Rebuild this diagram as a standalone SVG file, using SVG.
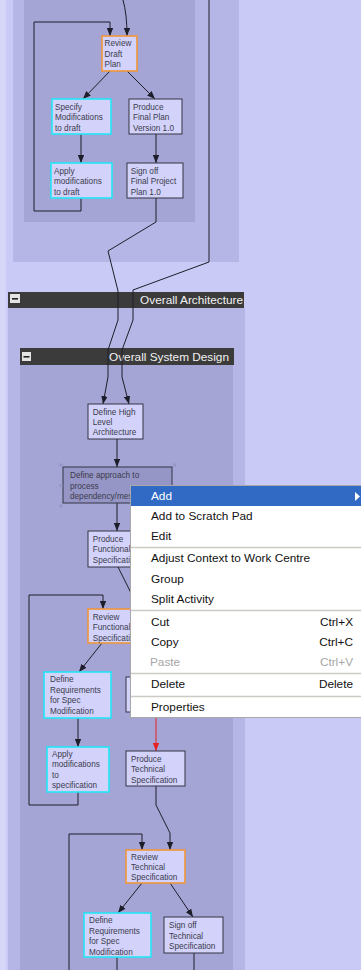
<svg xmlns="http://www.w3.org/2000/svg" width="361" height="970" viewBox="0 0 361 970">
<style>
.bg{fill:#CACAF7}
.outer{fill:#B6B6E6}
.inner{fill:#A4A4D5}
.hdr{fill:#3B3B3B}
.hdrt{font-family:"Liberation Sans",Arial,sans-serif;font-size:11.8px;fill:#F2F2F2}
.node rect{fill:#D2D2FA}
.node text{font-family:"Liberation Sans",Arial,sans-serif;font-size:8.2px;fill:#3C3C4C}
.dark{stroke:#343444;stroke-width:1}
.cyan{stroke:#22E6F8;stroke-width:1.6}
.orange{stroke:#F0963A;stroke-width:1.6}
.sel rect{fill:#9595C6}
.conn path{fill:none;stroke:#1E1E2A;stroke-width:1}
.conn path.red{stroke:#E82020}
.menu text{font-family:"Liberation Sans",Arial,sans-serif;font-size:11.8px;fill:#111}
.menu text.dis{fill:#A6A6A6}
.sep{stroke:#CCCAC4;stroke-width:1.5}
.handle{fill:#C8C8C8}
</style>
<defs>
<marker id="ah" viewBox="0 0 10 8" refX="10" refY="4" markerWidth="8" markerHeight="6.5" markerUnits="userSpaceOnUse" orient="auto"><path d="M0,0 L10,4 L0,8 z" fill="#1E1E2A"/></marker>
<marker id="ahr" viewBox="0 0 10 8" refX="10" refY="4" markerWidth="8" markerHeight="6.5" markerUnits="userSpaceOnUse" orient="auto"><path d="M0,0 L10,4 L0,8 z" fill="#E82020"/></marker>
</defs>

<!-- background and panels -->
<rect class="bg" x="0" y="0" width="361" height="970"/>
<rect x="0" y="0" width="6" height="970" fill="#D6D6F9"/>
<rect class="outer" x="13" y="0" width="226" height="262"/>
<rect class="inner" x="24" y="0" width="171" height="222"/>

<g id="grp-overall-architecture">
<rect class="outer" x="8" y="308" width="237" height="662"/>
<rect class="hdr" x="8" y="292" width="236" height="16"/>
<rect x="10" y="294" width="10" height="9" fill="#E4E4E4"/>
<rect x="12" y="298" width="6" height="1.6" fill="#222"/>
<text class="hdrt" x="243" y="304" text-anchor="end">Overall Architecture</text>
</g>
<g id="grp-overall-system-design">
<rect class="inner" x="20" y="365" width="213" height="605"/>
<rect class="hdr" x="20" y="348" width="214" height="17"/>
<rect x="22" y="352" width="9" height="9" fill="#E4E4E4"/>
<rect x="23.5" y="356" width="6" height="1.6" fill="#222"/>
<text class="hdrt" x="229" y="361" text-anchor="end">Overall System Design</text>
</g>

<!-- connectors -->
<g id="connectors" class="conn">
<path d="M123,0 Q127,14 127,36" marker-end="url(#ah)"/>
<path d="M81,198 V211 H34 V22 H110 V36" marker-end="url(#ah)"/>
<path d="M110,71 L83,99" marker-end="url(#ah)"/>
<path d="M127,71 L155,99" marker-end="url(#ah)"/>
<path d="M81,134 V163" marker-end="url(#ah)"/>
<path d="M156,134 V163" marker-end="url(#ah)"/>
<path d="M156,198 V222 L108,251 L118,291 V320 L108,350 V377 L103,404" marker-end="url(#ah)"/>
<path d="M209,0 V262 L133,290 V320 L122,350 V377 L129,404" marker-end="url(#ah)"/>
<path d="M117,439 V467" marker-end="url(#ah)"/>
<path d="M117,503 V531" marker-end="url(#ah)"/>
<path d="M118,567 L133,597 V609" marker-end="url(#ah)"/>
<path d="M78,792 V805 H29 V595 H103 V609" marker-end="url(#ah)"/>
<path d="M102,643 L79,672" marker-end="url(#ah)"/>
<path d="M78,718 V747" marker-end="url(#ah)"/>
<path class="red" d="M156,712 V751" marker-end="url(#ahr)"/>
<path d="M156,786 V805 L170,833 V850" marker-end="url(#ah)"/>
<path d="M69,970 V834 H142 V850" marker-end="url(#ah)"/>
<path d="M142,883 L118,913" marker-end="url(#ah)"/>
<path d="M170,883 L193,917" marker-end="url(#ah)"/>
<path d="M117,957 V970"/>
<path d="M194,953 V970"/>
</g>

<!-- nodes -->
<g id="n-review-draft" class="node"><rect class="orange" x="102" y="36" width="35" height="35"/><text x="104.5" y="46">Review<tspan x="104.5" dy="10.6">Draft</tspan><tspan x="104.5" dy="10.6">Plan</tspan></text></g>
<g id="n-specify-mods" class="node"><rect class="cyan" x="52" y="99" width="59" height="35"/><text x="55" y="109.5">Specify<tspan x="55" dy="10.6">Modifications</tspan><tspan x="55" dy="10.6">to draft</tspan></text></g>
<g id="n-produce-final" class="node"><rect class="dark" x="129" y="99" width="53" height="35"/><text x="133" y="109.5">Produce<tspan x="133" dy="10.6">Final Plan</tspan><tspan x="133" dy="10.6">Version 1.0</tspan></text></g>
<g id="n-apply-draft" class="node"><rect class="cyan" x="51" y="163" width="61" height="35"/><text x="54" y="173.5">Apply<tspan x="54" dy="10.6">modifications</tspan><tspan x="54" dy="10.6">to draft</tspan></text></g>
<g id="n-signoff-plan" class="node"><rect class="dark" x="127" y="163" width="56" height="35"/><text x="130.7" y="173.5">Sign off<tspan x="130.7" dy="10.6">Final Project</tspan><tspan x="130.7" dy="10.6">Plan 1.0</tspan></text></g>

<g id="n-define-hla" class="node"><rect class="dark" x="88" y="404" width="55" height="35"/><text x="92.7" y="414.5">Define High<tspan x="92.7" dy="10.2">Level</tspan><tspan x="92.7" dy="10.2">Architecture</tspan></text></g>
<g id="n-define-approach" class="node sel"><rect class="dark" x="63" y="467" width="109" height="36"/><text x="70" y="478">Define approach to<tspan x="70" dy="10.6">process</tspan><tspan x="70" dy="10.6">dependency/mes</tspan></text>
<rect class="handle" x="59.5" y="463.5" width="3" height="3"/><rect class="handle" x="173" y="463.5" width="3" height="3"/><rect class="handle" x="59.5" y="484" width="3" height="3"/><rect class="handle" x="59.5" y="504.5" width="3" height="3"/></g>
<g id="n-produce-func" class="node"><rect class="dark" x="88" y="531" width="60" height="36"/><text x="92.7" y="541.5">Produce<tspan x="92.7" dy="10.6">Functional</tspan><tspan x="92.7" dy="10.6">Specification</tspan></text></g>
<g id="n-review-func" class="node"><rect class="orange" x="88" y="609" width="60" height="34"/><text x="92.7" y="619.5">Review<tspan x="92.7" dy="10.6">Functional</tspan><tspan x="92.7" dy="10.6">Specification</tspan></text></g>
<g id="n-define-req-1" class="node"><rect class="cyan" x="44" y="672" width="67" height="46"/><text x="50" y="682">Define<tspan x="50" dy="10.6">Requirements</tspan><tspan x="50" dy="10.6">for Spec</tspan><tspan x="50" dy="10.6">Modification</tspan></text></g>
<g id="n-hidden" class="node"><rect class="dark" x="126" y="677" width="60" height="35"/></g>
<g id="n-apply-spec" class="node"><rect class="cyan" x="47" y="747" width="62" height="45"/><text x="52" y="756.5">Apply<tspan x="52" dy="10.6">modifications</tspan><tspan x="52" dy="10.6">to</tspan><tspan x="52" dy="10.6">specification</tspan></text></g>
<g id="n-produce-tech" class="node"><rect class="dark" x="126" y="751" width="59" height="35"/><text x="131" y="761.5">Produce<tspan x="131" dy="10.6">Technical</tspan><tspan x="131" dy="10.6">Specification</tspan></text></g>
<g id="n-review-tech" class="node"><rect class="orange" x="126" y="850" width="59" height="33"/><text x="131" y="860">Review<tspan x="131" dy="10.2">Technical</tspan><tspan x="131" dy="10.2">Specification</tspan></text></g>
<g id="n-define-req-2" class="node"><rect class="cyan" x="84" y="913" width="67" height="44"/><text x="89" y="923">Define<tspan x="89" dy="10.6">Requirements</tspan><tspan x="89" dy="10.6">for Spec</tspan><tspan x="89" dy="10.6">Modification</tspan></text></g>
<g id="n-signoff-tech" class="node"><rect class="dark" x="164" y="917" width="59" height="36"/><text x="169" y="928">Sign off<tspan x="169" dy="10.6">Technical</tspan><tspan x="169" dy="10.6">Specification</tspan></text></g>

<!-- context menu -->
<g id="context-menu" class="menu">
<rect x="130.5" y="485.5" width="231" height="232" fill="#FFFFFF" stroke="#A8A8A8"/>
<rect x="131" y="486" width="230" height="20" fill="#316AC5"/>
<path d="M355,492 L360,496.5 L355,501 z" fill="#FFFFFF"/>
<text x="151" y="499.5" fill="#FFFFFF" style="fill:#FFFFFF">Add</text>
<text x="151" y="519.5">Add to Scratch Pad</text>
<text x="151" y="540">Edit</text>
<line class="sep" x1="131" y1="547.5" x2="361" y2="547.5"/>
<text x="151" y="562">Adjust Context to Work Centre</text>
<text x="151" y="583">Group</text>
<text x="151" y="603">Split Activity</text>
<line class="sep" x1="131" y1="610.5" x2="361" y2="610.5"/>
<text x="151" y="625.5">Cut</text>
<text x="353" y="625.5" text-anchor="end">Ctrl+X</text>
<text x="151" y="646">Copy</text>
<text x="353" y="646" text-anchor="end">Ctrl+C</text>
<text class="dis" x="150" y="665.5">Paste</text>
<text class="dis" x="353" y="665.5" text-anchor="end">Ctrl+V</text>
<line class="sep" x1="131" y1="673.5" x2="361" y2="673.5"/>
<text x="151" y="688">Delete</text>
<text x="353" y="688" text-anchor="end">Delete</text>
<line class="sep" x1="131" y1="696.5" x2="361" y2="696.5"/>
<text x="151" y="711">Properties</text>
</g>
</svg>
